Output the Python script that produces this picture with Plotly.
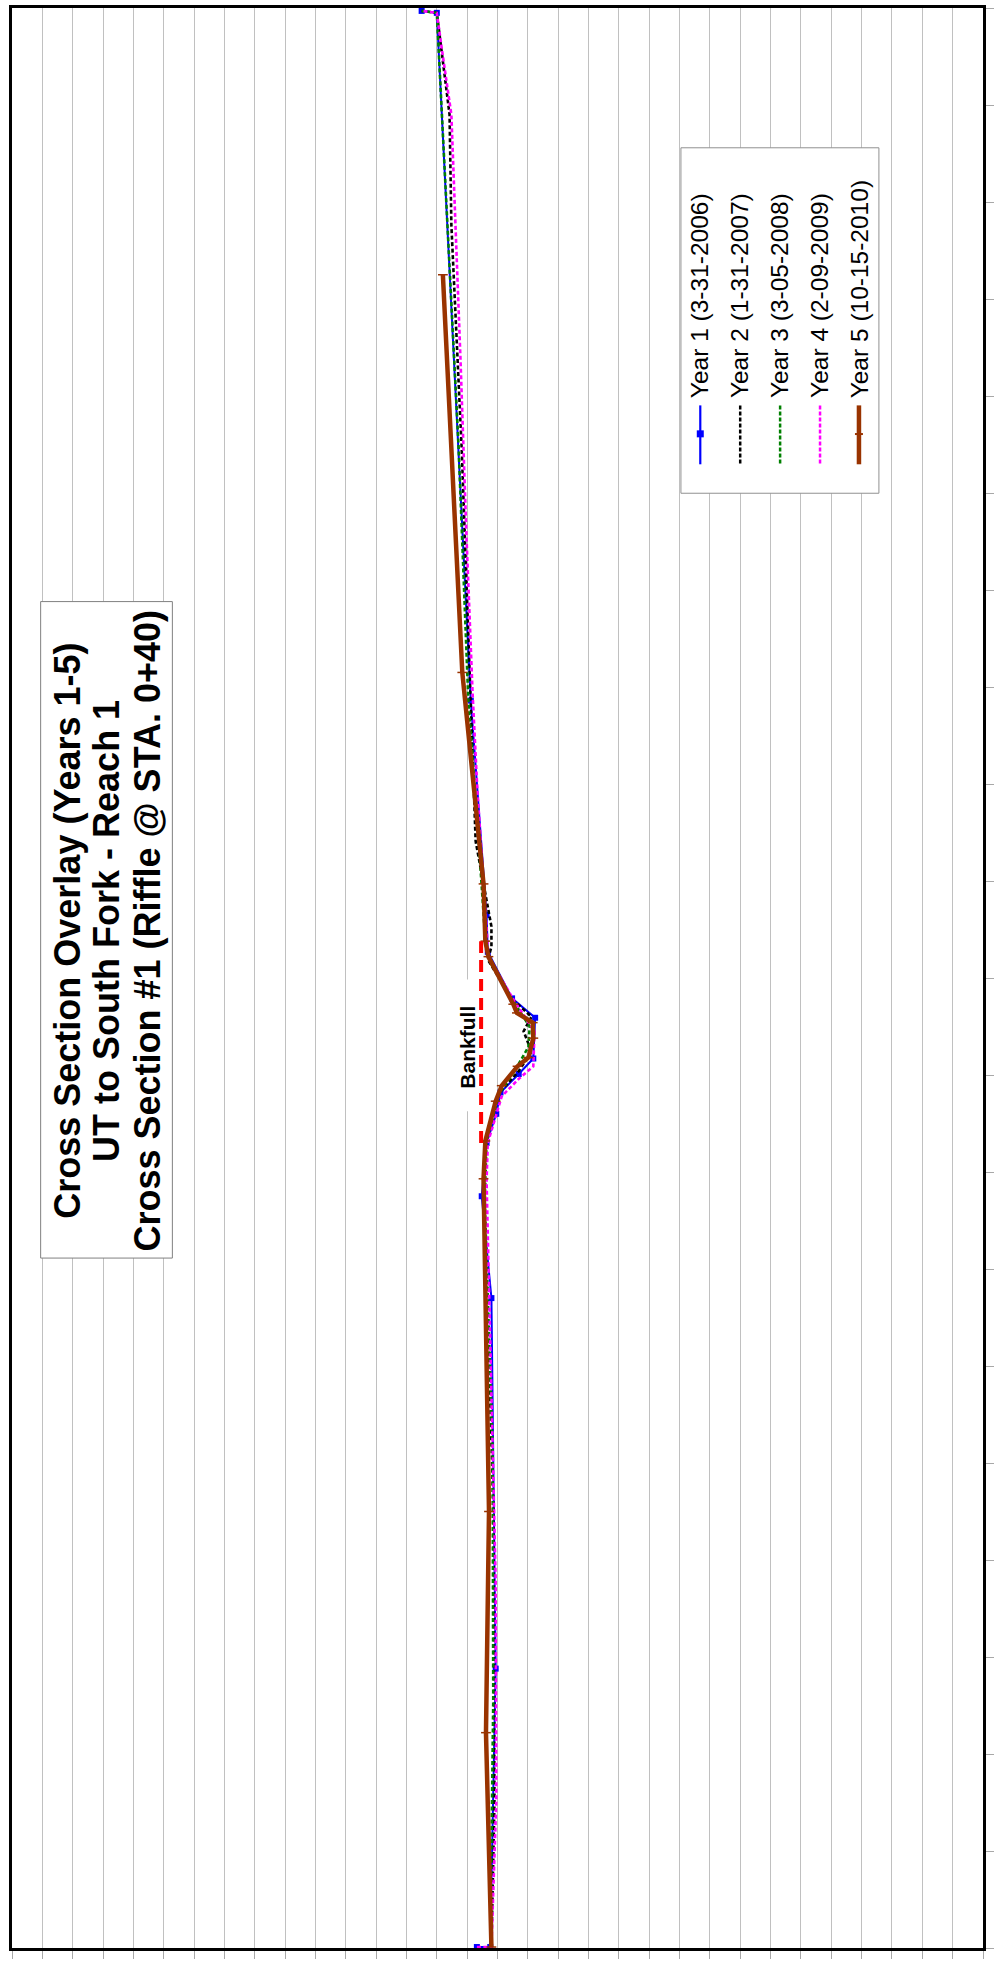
import plotly.graph_objects as go

# ---------------- data (station ft, elevation ft) ----------------
y1_station = [0.1, 0.1, 28.8, 67.0, 77.5, 83.0, 86.0, 88.2, 90.1, 91.7, 95.9, 97.9, 102.7, 106.5, 128.6, 199.5, 199.7]
y1_elev    = [908.34, 908.12, 908.03, 908.10, 908.26, 908.18, 908.02, 907.95, 907.65, 907.41, 907.38, 907.76, 908.16, 908.18, 908.44, 909.00, 909.25]

y2_station = [0.1, 15.2, 46.1, 79.1, 83.2, 88.1, 90.4, 92.4, 94.5, 96.0, 97.9, 101.9, 103.2, 105.3, 114.1, 131.5, 154.6, 177.6, 189.0, 199.5, 199.7]
y2_elev    = [908.10, 908.05, 908.07, 908.23, 908.18, 907.98, 907.65, 907.44, 907.57, 907.44, 907.77, 908.16, 908.10, 908.10, 908.36, 908.46, 908.59, 908.76, 908.79, 909.00, 909.25]

y3_station = [0.1, 25.5, 51.3, 77.0, 83.2, 88.0, 90.6, 92.9, 95.0, 97.6, 101.7, 103.8, 114.1, 128.5, 154.6, 177.6, 199.5, 199.7]
y3_elev    = [908.12, 908.07, 908.08, 908.21, 908.18, 907.98, 907.70, 907.49, 907.47, 907.74, 908.13, 908.20, 908.31, 908.48, 908.64, 908.82, 909.00, 909.25]

y4_station = [0.1, 0.1, 15.2, 37.9, 79.1, 83.0, 87.8, 89.6, 90.9, 94.5, 97.6, 102.2, 107.9, 119.2, 129.3, 145.3, 163.8, 177.6, 189.0, 195.9, 199.5, 199.7]
y4_elev    = [908.34, 908.10, 908.02, 908.03, 908.18, 908.16, 907.93, 907.65, 907.41, 907.39, 907.72, 908.15, 908.21, 908.33, 908.41, 908.51, 908.61, 908.69, 908.76, 908.92, 909.00, 909.25]

y5_station = [0.1, 22.2, 45.0, 79.3, 83.2, 87.3, 88.9, 90.9, 91.8, 93.8, 95.4, 96.4, 97.3, 102.2, 103.8, 109.7, 131.5, 172.5]
y5_elev    = [908.10, 908.19, 908.14, 908.23, 908.20, 908.03, 907.93, 907.67, 907.49, 907.41, 907.42, 907.68, 907.74, 908.15, 908.20, 908.23, 908.58, 908.90]

bankfull_station = [83.0, 103.8]
bankfull_elev = [908.27, 908.27]

series_names = ["Year 1 (3-31-2006)", "Year 2 (1-31-2007)", "Year 3 (3-05-2008)",
                "Year 4 (2-09-2009)", "Year 5 (10-15-2010)"]
title_lines = ["Cross Section Overlay (Years 1-5)", "UT to South Fork - Reach 1",
               "Cross Section #1 (Riffle @ STA. 0+40)"]

# ---------------- layout helpers (pixel -> paper) ----------------
W, H = 996, 1965
ML, MR, MT, MB = 12, 11, 5, 17
PW, PH = W - ML - MR, H - MT - MB


def px(x):
    return (x - ML) / PW


def py(y):
    return (H - MB - y) / PH


FONT = "Liberation Sans, Arial, sans-serif"
BLUE, BLACK, GREEN, MAGENTA, BROWN, RED = "#0000FF", "#000000", "#008000", "#FF00FF", "#993300", "#FF0000"
DASH = "4px,2.5px"

fig = go.Figure()

fig.add_trace(go.Scatter(x=y1_elev, y=y1_station, mode="lines+markers", name=series_names[0],
                         line=dict(color=BLUE, width=2),
                         marker=dict(symbol="square", size=6, color=BLUE)))
fig.add_trace(go.Scatter(x=y2_elev, y=y2_station, mode="lines", name=series_names[1],
                         line=dict(color=BLACK, width=2.6, dash=DASH)))
fig.add_trace(go.Scatter(x=y3_elev, y=y3_station, mode="lines", name=series_names[2],
                         line=dict(color=GREEN, width=2.6, dash=DASH)))
fig.add_trace(go.Scatter(x=y4_elev, y=y4_station, mode="lines", name=series_names[3],
                         line=dict(color=MAGENTA, width=2.6, dash=DASH)))
fig.add_trace(go.Scatter(x=y5_elev, y=y5_station, mode="lines+markers", name=series_names[4],
                         line=dict(color=BROWN, width=4.5),
                         marker=dict(symbol="line-ew", size=7, color=BROWN,
                                     line=dict(color=BROWN, width=1.5))))
fig.add_trace(go.Scatter(x=bankfull_elev, y=bankfull_station, mode="lines", name="Bankfull",
                         line=dict(color=RED, width=4, dash="12px,7px")))

shapes = []
annotations = []

# Title box
shapes.append(dict(type="rect", xref="paper", yref="paper",
                   x0=px(40.7), x1=px(172.7), y0=py(1257), y1=py(599.5),
                   fillcolor="white", line=dict(color="#808080", width=1), layer="above"))
for cx, txt in zip([67.3, 106.5, 148.3], title_lines):
    annotations.append(dict(xref="paper", yref="paper", x=px(cx), y=py(929),
                            xanchor="center", yanchor="middle", text="<b>%s</b>" % txt,
                            textangle=-90, showarrow=False,
                            font=dict(family=FONT, size=36, color="black")))

# Legend box
shapes.append(dict(type="rect", xref="paper", yref="paper",
                   x0=px(682.3), x1=px(880.7), y0=py(491), y1=py(145),
                   fillcolor="white", line=dict(color="#909090", width=1), layer="above"))
leg_x = [701.7, 741.7, 781.7, 821.7, 860.7]
leg_style = [(BLUE, 2.2, "solid"), (BLACK, 2.5, "4px,2px"), (GREEN, 2.5, "4px,2px"),
             (MAGENTA, 2.5, "4px,2px"), (BROWN, 4.5, "solid")]
for cx, name, (col, wd, ds) in zip(leg_x, series_names, leg_style):
    shapes.append(dict(type="line", xref="paper", yref="paper",
                       x0=px(cx), x1=px(cx), y0=py(403), y1=py(462),
                       line=dict(color=col, width=wd, dash=ds), layer="above"))
    annotations.append(dict(xref="paper", yref="paper", x=px(cx), y=py(398),
                            xanchor="center", yanchor="bottom", text=name,
                            textangle=-90, showarrow=False,
                            font=dict(family=FONT, size=24.5, color="black")))
# legend markers
shapes.append(dict(type="rect", xref="paper", yref="paper",
                   x0=px(leg_x[0] - 3.5), x1=px(leg_x[0] + 3.5), y0=py(435), y1=py(428),
                   fillcolor=BLUE, line=dict(color=BLUE, width=0), layer="above"))
shapes.append(dict(type="line", xref="paper", yref="paper",
                   x0=px(leg_x[4] - 4), x1=px(leg_x[4] + 4), y0=py(431.7), y1=py(431.7),
                   line=dict(color=BROWN, width=2), layer="above"))

# Bankfull label: white box that hides the gridline, then the text
shapes.append(dict(type="rect", xref="paper", yref="paper",
                   x0=px(456), x1=px(479), y0=py(1110), y1=py(978),
                   fillcolor="white", line=dict(width=0), layer="above"))
annotations.append(dict(x=908.49, y=92.9, xref="x", yref="y",
                        text="<b>Bankfull</b>",
                        textangle=-90, showarrow=False,
                        xanchor="center", yanchor="middle",
                        font=dict(family=FONT, size=21, color="black")))

fig.update_layout(
    width=W, height=H, autosize=False,
    margin=dict(l=ML, r=MR, t=MT, b=MB, pad=0),
    paper_bgcolor="white", plot_bgcolor="white",
    showlegend=False,
    shapes=shapes, annotations=annotations,
    xaxis=dict(range=[916, 900], autorange=False, dtick=0.5, tick0=900,
               showgrid=True, gridcolor="#c0c0c0", gridwidth=1,
               showticklabels=False, ticks="outside", ticklen=8, tickcolor="#a8a8a8",
               showline=True, linecolor="black", linewidth=2.5, mirror=True,
               zeroline=False, fixedrange=True),
    yaxis=dict(range=[0, 200], autorange=False, dtick=10, tick0=0, side="right",
               showgrid=False, showticklabels=False, ticks="outside", ticklen=8,
               tickcolor="#a8a8a8",
               showline=True, linecolor="black", linewidth=2.5, mirror=True,
               zeroline=False, fixedrange=True),
)

fig.write_html("out.html", config={"displayModeBar": False},
               post_script="document.body.style.margin='0px';document.body.style.padding='0px';")
